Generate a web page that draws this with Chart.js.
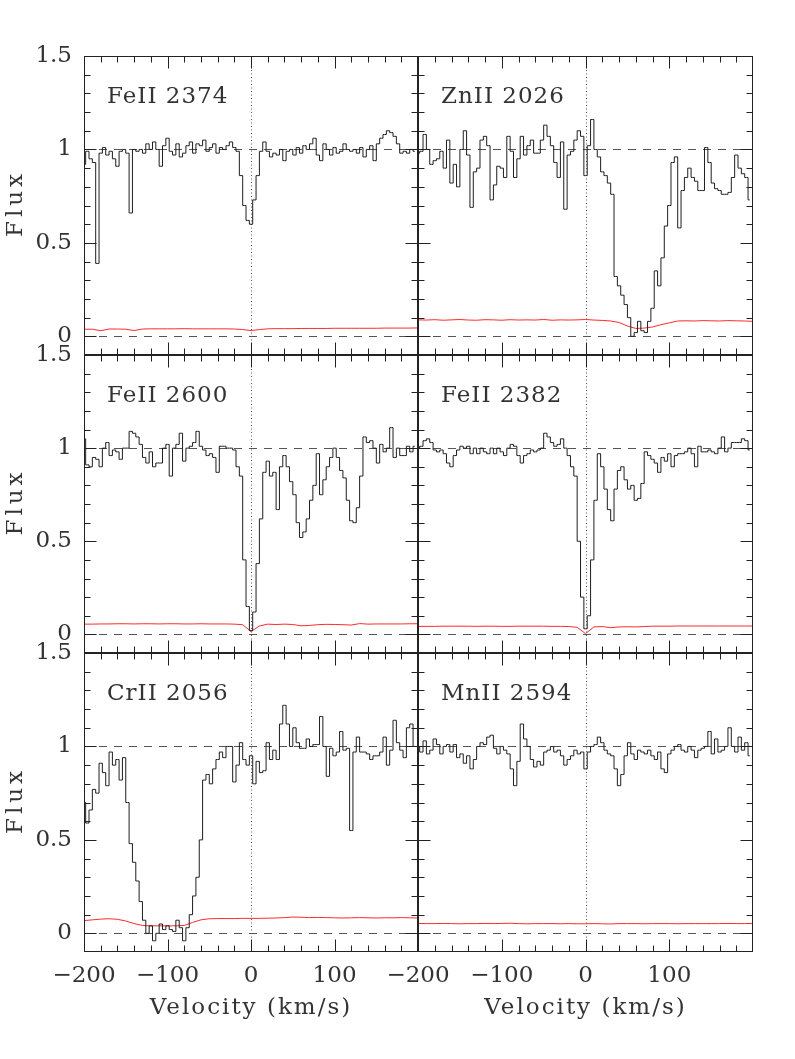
<!DOCTYPE html>
<html><head><meta charset="utf-8">
<script src="https://cdn.jsdelivr.net/npm/chart.js@4.4.1/dist/chart.umd.min.js"></script>
<style>
html,body{margin:0;padding:0;background:#fff;width:795px;height:1059px;overflow:hidden}
canvas{position:absolute;left:0;top:0}
</style></head><body>
<canvas id="c0" width="795" height="1059"></canvas>
<canvas id="c1" width="795" height="1059"></canvas>
<canvas id="c2" width="795" height="1059"></canvas>
<canvas id="c3" width="795" height="1059"></canvas>
<canvas id="c4" width="795" height="1059"></canvas>
<canvas id="c5" width="795" height="1059"></canvas>
<script>
// ---- data ----
const velocity = [-200,-196,-192,-188,-184,-180,-176,-172,-168,-164,
-160,-156,-152,-148,-144,-140,-136,-132,-128,-124,
-120,-116,-112,-108,-104,-100,-96,-92,-88,-84,
-80,-76,-72,-68,-64,-60,-56,-52,-48,-44,
-40,-36,-32,-28,-24,-20,-16,-12,-8,-4,
0,4,8,12,16,20,24,28,32,36,
40,44,48,52,56,60,64,68,72,76,
80,84,88,92,96,100,104,108,112,116,
120,124,128,132,136,140,144,148,152,156,
160,164,168,172,176,180,184,188,192,196];

const errVelocity = [-200,-190,-180,-170,-160,-150,-140,-130,-120,-110,
-100,-90,-80,-70,-60,-50,-40,-30,-20,-10,
0,10,20,30,40,50,60,70,80,90,
100,110,120,130,140,150,160,170,180,190,200];

const fe2374 = [0.92,0.99,0.95,0.93,0.39,0.98,1.01,0.97,0.99,0.95,
0.91,0.99,1.00,0.98,0.66,1.00,0.99,1.00,0.98,1.03,
1.00,1.04,1.00,0.91,1.02,1.06,0.99,0.97,1.03,0.96,
0.98,1.02,1.04,0.98,1.03,1.02,1.05,0.99,1.01,1.03,
0.98,1.01,1.00,1.02,1.04,1.01,0.99,0.86,0.70,0.62,
0.60,0.73,0.86,0.99,1.04,0.99,0.96,0.98,0.97,1.00,
0.94,0.99,1.00,0.97,1.01,0.98,1.02,1.00,1.03,1.06,
0.97,0.94,1.03,1.00,0.97,1.01,0.98,0.99,1.03,1.00,
0.99,1.00,0.98,1.01,0.96,1.00,1.02,0.94,1.03,1.06,
1.08,1.10,1.09,1.07,1.03,0.98,0.99,0.98,1.00,0.99];

const zn2026 = [0.98,0.99,1.08,1.00,0.92,0.94,0.95,0.99,0.90,1.05,
0.82,0.92,0.80,1.00,1.10,0.97,0.69,0.88,0.90,1.05,
1.07,1.02,0.73,0.81,0.91,0.90,0.85,1.07,0.99,0.85,
0.95,1.07,0.97,1.02,1.05,0.98,0.98,1.05,1.13,1.07,
1.02,0.93,0.85,1.04,0.68,0.97,0.99,1.05,1.10,1.07,
0.86,1.02,1.16,1.00,0.96,0.88,0.86,0.82,0.76,0.32,
0.27,0.22,0.17,0.10,0.00,0.02,0.08,0.03,0.02,0.08,
0.15,0.35,0.27,0.42,0.59,0.70,0.93,0.96,0.58,0.78,
0.85,0.90,0.85,0.83,0.78,0.78,1.01,0.93,0.82,0.79,
0.78,0.76,0.76,0.77,0.85,0.97,0.90,0.87,0.85,0.73];

const fe2600 = [1.05,0.91,0.90,0.95,0.94,0.90,1.00,1.03,0.96,0.99,
0.98,0.94,1.00,1.00,1.09,1.08,1.06,1.02,0.95,0.92,
0.98,0.90,0.92,0.92,1.00,1.02,0.85,1.00,1.02,1.08,
0.93,1.00,1.01,1.03,1.09,1.01,0.99,0.96,0.97,0.95,
0.87,1.01,1.01,1.00,1.00,0.99,0.90,0.85,0.40,0.15,
0.02,0.12,0.38,0.62,0.87,0.93,0.85,0.87,0.67,0.90,
0.96,0.90,0.82,0.75,0.60,0.52,0.55,0.62,0.72,0.80,
0.97,0.75,0.83,0.90,0.95,1.00,0.95,0.88,0.84,0.72,
0.61,0.60,0.68,0.85,1.06,1.03,1.04,1.00,0.92,1.02,
0.98,1.00,1.11,0.95,1.00,0.96,0.96,1.01,0.98,1.01];

const fe2382 = [1.00,1.01,1.04,1.05,1.03,0.99,0.98,0.99,0.97,0.92,
0.90,0.96,0.99,1.01,1.00,1.01,0.97,1.00,0.97,1.00,
0.98,0.97,1.00,0.97,1.00,0.98,0.96,1.00,1.02,1.01,
0.96,0.92,0.96,0.97,0.99,0.98,0.99,1.00,1.08,1.06,
1.03,1.01,1.02,1.05,1.00,0.96,0.90,0.85,0.50,0.20,
0.03,0.10,0.40,0.72,0.97,0.90,0.78,0.67,0.61,0.78,
0.88,0.90,0.83,0.78,0.80,0.72,0.73,0.81,0.98,0.96,
0.94,0.92,0.87,0.95,0.93,0.97,0.90,0.96,0.97,0.97,
0.98,1.00,0.97,0.90,1.01,0.98,0.98,0.99,0.98,0.97,
1.00,1.06,0.98,1.00,1.03,1.03,1.03,1.05,1.04,0.99];

const cr2056 = [0.70,0.59,0.66,0.77,0.75,0.91,0.86,0.79,0.97,0.90,
0.93,0.82,0.94,0.70,0.48,0.38,0.28,0.17,0.07,0.00,
0.04,-0.04,0.00,0.05,0.02,0.04,0.02,0.01,0.07,0.03,
-0.04,0.03,0.10,0.20,0.30,0.50,0.82,0.85,0.80,0.88,
0.93,0.97,0.94,1.00,1.00,0.81,0.90,1.02,0.93,0.90,
0.95,0.80,0.92,0.86,0.87,1.02,0.93,0.98,0.93,1.12,
1.22,1.12,1.00,1.10,1.02,0.99,0.99,1.04,1.00,1.01,
1.01,1.16,1.00,0.84,0.99,0.95,0.97,1.08,0.98,0.99,
0.55,0.97,1.05,0.97,0.97,0.96,0.93,0.95,0.95,0.97,
1.05,0.90,0.98,1.14,1.02,0.98,0.94,1.10,1.12,1.00];

const mn2594 = [1.00,0.97,1.03,0.96,0.98,1.04,1.01,0.96,1.00,1.01,
0.97,1.01,0.94,0.96,0.91,0.95,0.88,0.93,1.00,1.02,
1.01,1.05,1.06,0.99,0.96,1.00,0.98,0.96,0.88,0.79,
0.92,1.12,1.04,1.00,0.93,0.89,0.92,0.90,0.97,0.98,
1.00,0.97,0.98,0.95,0.90,0.93,0.95,0.98,0.96,0.97,
0.88,0.97,1.00,1.01,1.05,1.02,0.98,0.96,0.95,0.88,
0.79,0.85,0.95,1.02,0.96,0.93,0.98,0.97,0.96,0.98,
0.95,0.93,0.97,0.88,0.86,0.96,0.98,1.00,1.01,0.98,
0.97,1.00,0.98,0.94,0.98,0.99,1.00,1.08,0.96,1.04,
0.97,0.98,1.00,1.10,1.00,0.97,1.05,0.98,1.02,0.95];

const err2374 = [0.038,0.038,0.030,0.039,0.039,0.038,0.031,0.039,0.040,0.040,
0.040,0.040,0.041,0.040,0.040,0.040,0.040,0.040,0.039,0.036,
0.031,0.036,0.040,0.041,0.041,0.041,0.042,0.042,0.042,0.042,
0.043,0.043,0.043,0.043,0.043,0.043,0.044,0.044,0.044,0.044,0.045];
const err2026 = [0.088,0.087,0.089,0.086,0.088,0.090,0.087,0.086,0.089,0.088,
0.086,0.089,0.087,0.088,0.087,0.090,0.086,0.088,0.087,0.088,
0.090,0.087,0.085,0.082,0.074,0.055,0.042,0.044,0.050,0.062,
0.072,0.082,0.083,0.082,0.084,0.083,0.082,0.084,0.083,0.082,0.080];
const err2600 = [0.055,0.055,0.056,0.056,0.057,0.057,0.056,0.057,0.057,0.056,
0.057,0.057,0.056,0.056,0.057,0.056,0.056,0.056,0.055,0.052,
0.015,0.045,0.055,0.053,0.055,0.053,0.046,0.048,0.052,0.054,
0.053,0.052,0.050,0.058,0.055,0.056,0.056,0.056,0.056,0.057,0.057];
const err2382 = [0.043,0.043,0.043,0.044,0.044,0.044,0.044,0.043,0.044,0.044,
0.043,0.043,0.044,0.044,0.044,0.044,0.043,0.043,0.042,0.038,
0.004,0.040,0.042,0.036,0.040,0.041,0.040,0.042,0.044,0.044,
0.044,0.045,0.045,0.045,0.045,0.045,0.045,0.045,0.045,0.045,0.045];
const err2056 = [0.068,0.072,0.076,0.078,0.075,0.066,0.052,0.042,0.040,0.040,
0.040,0.040,0.042,0.058,0.072,0.078,0.079,0.079,0.079,0.080,
0.080,0.080,0.081,0.082,0.084,0.087,0.086,0.084,0.085,0.084,
0.083,0.082,0.083,0.084,0.083,0.082,0.083,0.083,0.084,0.083,0.082];
const err2594 = [0.053,0.052,0.052,0.053,0.052,0.051,0.052,0.052,0.053,0.052,
0.053,0.054,0.052,0.051,0.052,0.052,0.052,0.051,0.052,0.051,
0.051,0.052,0.051,0.050,0.052,0.052,0.052,0.051,0.052,0.052,
0.052,0.051,0.052,0.052,0.052,0.052,0.052,0.053,0.052,0.052,0.053];

const lineLabels = ['FeII 2374','ZnII 2026','FeII 2600','FeII 2382','CrII 2056','MnII 2594'];
const xTickValues = [-200,-100,0,100];
const yTickValues = [0,0.5,1,1.5];

// ---- layout ----
const W = 795, H = 1059;
const COLS = [[84,418],[418,753]];
const ROWS = [[56,355],[355,653],[653,952]];
const FONT = "'DejaVu Serif', serif";
const TXT = '#333';

const deco = {
  id:'deco',
  beforeDatasetsDraw(chart, args, o){
    const {ctx, chartArea:a, scales:{x,y}} = chart;
    ctx.save();
    ctx.strokeStyle = '#555'; ctx.lineWidth = 1;
    ctx.setLineDash([8,7]);
    [0,1].forEach(v=>{
      const py = Math.round(y.getPixelForValue(v)) + 0.5;
      ctx.beginPath(); ctx.moveTo(a.left, py); ctx.lineTo(a.right, py); ctx.stroke();
    });
    ctx.setLineDash([1,2.5]);
    ctx.strokeStyle = '#555';
    const px = Math.round(x.getPixelForValue(0)) + 0.5;
    ctx.beginPath(); ctx.moveTo(px, a.top); ctx.lineTo(px, a.bottom); ctx.stroke();
    ctx.restore();
  },
  afterDatasetsDraw(chart, args, o){
    const {ctx, chartArea:a, scales:{x,y}} = chart;
    ctx.save();
    ctx.strokeStyle = '#222'; ctx.lineWidth = 1; ctx.setLineDash([]);
    const L = Math.round(a.left)+0.5, R = Math.round(a.right)-0.5, T = Math.round(a.top)+0.5, B = Math.round(a.bottom)-0.5;
    ctx.strokeRect(L, T, R-L, B-T);
    ctx.beginPath();
    for (let v = -180; v < 200; v += 20) {
      const px = Math.round(x.getPixelForValue(v)) + 0.5;
      const len = (v % 100 === 0) ? 12 : 6;
      ctx.moveTo(px, T); ctx.lineTo(px, T+len);
      ctx.moveTo(px, B); ctx.lineTo(px, B-len);
    }
    for (let k = 0; k < 15; k++) {
      const py = Math.round(y.getPixelForValue(k/10)) + 0.5;
      const len = (k % 5 === 0) ? 12 : 6;
      ctx.moveTo(L, py); ctx.lineTo(L+len, py);
      ctx.moveTo(R, py); ctx.lineTo(R-len, py);
    }
    ctx.stroke();
    ctx.fillStyle = TXT;
    ctx.font = '23px ' + FONT;
    ctx.letterSpacing = '1px';
    ctx.textAlign = 'left'; ctx.textBaseline = 'alphabetic';
    ctx.fillText(o.label, a.left + 23, a.top + 47);
    if (o.fluxTitle) {
      ctx.save();
      ctx.letterSpacing = '4px';
      ctx.translate(16, (a.top + a.bottom)/2);
      ctx.rotate(-Math.PI/2);
      ctx.textAlign = 'center'; ctx.textBaseline = 'middle';
      ctx.fillText('Flux', 2, 0);
      ctx.restore();
    }
    if (o.velTitle) {
      ctx.letterSpacing = '2px';
      ctx.textAlign = 'center'; ctx.textBaseline = 'middle';
      ctx.fillText('Velocity (km/s)', (a.left + a.right)/2, 1008);
    }
    ctx.restore();
  }
};

const panels = [
  {flux: fe2374, err: err2374, col:0, row:0},
  {flux: zn2026, err: err2026, col:1, row:0},
  {flux: fe2600, err: err2600, col:0, row:1},
  {flux: fe2382, err: err2382, col:1, row:1},
  {flux: cr2056, err: err2056, col:0, row:2},
  {flux: mn2594, err: err2594, col:1, row:2}
];

panels.forEach((p, i) => {
  const [xl, xr] = COLS[p.col];
  const [yt, yb] = ROWS[p.row];
  const showX = p.row === 2, showY = p.col === 0;
  new Chart(document.getElementById('c' + i), {
    type: 'line',
    data: {
      datasets: [
        {data: velocity.map((v, j) => ({x: v, y: p.flux[j]})), stepped: 'middle',
         borderColor: '#1e1e1e', borderWidth: 1, pointRadius: 0, fill: false},
        {data: errVelocity.map((v, j) => ({x: v, y: p.err[j]})),
         borderColor: '#ff2a2a', borderWidth: 1, pointRadius: 0, fill: false, tension: 0}
      ]
    },
    plugins: [deco],
    options: {
      responsive: false, animation: false, devicePixelRatio: 1, events: [],
      layout: {padding: {top: yt, right: W - xr, left: 0, bottom: 0}},
      plugins: {legend: {display: false}, tooltip: {enabled: false},
        deco: {label: lineLabels[i], fluxTitle: showY, velTitle: showX}},
      scales: {
        x: {type: 'linear', min: -200, max: 199.9, display: true,
          grid: {display: false, drawTicks: false}, border: {display: false},
          afterBuildTicks: s => { s.ticks = xTickValues.map(v => ({value: v})); },
          afterFit: s => { s.height = H - yb; },
          ticks: {display: showX, autoSkip: false, maxRotation: 0, padding: 10, color: TXT,
            font: {family: FONT, size: 23},
            callback: v => String(v).replace('-', '\u2212')}},
        y: {type: 'linear', min: -0.1, max: 1.5, display: true,
          grid: {display: false, drawTicks: false}, border: {display: false},
          afterBuildTicks: s => { s.ticks = yTickValues.map(v => ({value: v})); },
          afterFit: s => { s.width = xl; },
          ticks: {display: showY, autoSkip: false, padding: 12, color: TXT,
            font: {family: FONT, size: 23},
            callback: v => String(v)}}
      }
    }
  });
});
</script>
</body></html>
